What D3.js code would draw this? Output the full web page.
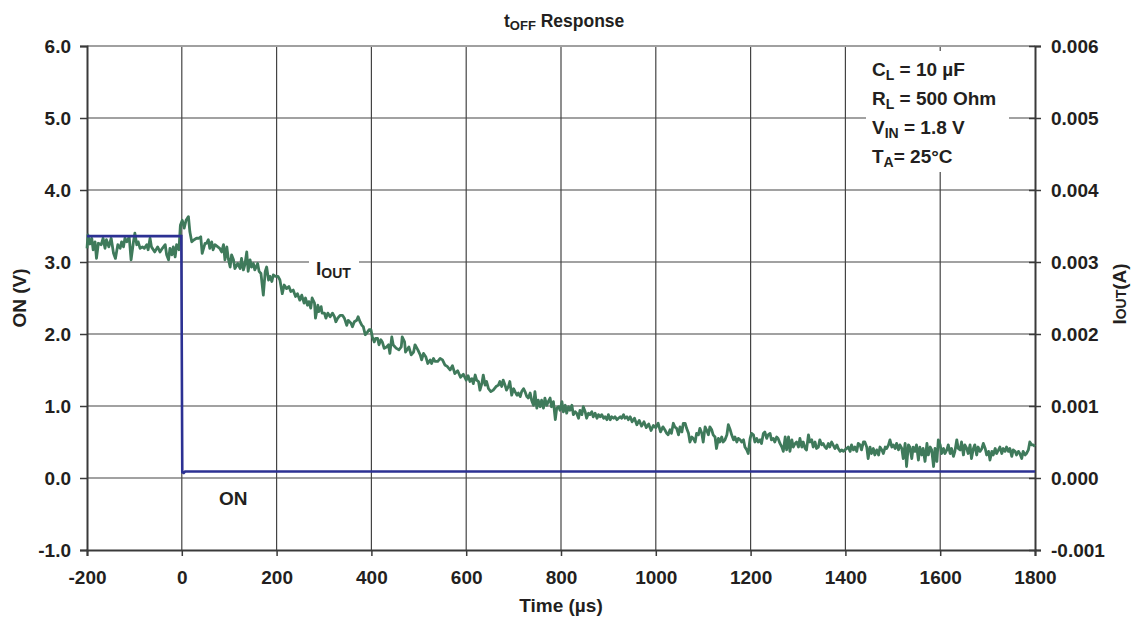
<!DOCTYPE html>
<html>
<head>
<meta charset="utf-8">
<script src="https://cdn.jsdelivr.net/npm/d3@7"></script>
<style>
  body { margin: 0; background: #fff; }
  svg text { font-family: "Liberation Sans", Arial, sans-serif; font-weight: bold; fill: #231f20; }
</style>
</head>
<body>
<svg id="chart" width="1131" height="620"></svg>
<script>
// time in µs
const xTicks = [-200, 0, 200, 400, 600, 800, 1000, 1200, 1400, 1600, 1800];
const leftTicks = [-1, 0, 1, 2, 3, 4, 5, 6];
const rightTicks = [-0.001, 0, 0.001, 0.002, 0.003, 0.004, 0.005, 0.006];

// ON voltage (V)
const onPoints = [[-200, 3.36], [-1, 3.36], [1, 0.08], [4, 0.07], [7, 0.09], [1800, 0.09]];

// I_OUT in mA (1 mA = 0.001 A on the right axis)
const ioutPoints = [
  [-200, 3.19], [-198, 3.375], [-194, 3.25], [-190, 3.33], [-187, 3.17], [-183, 3.28], [-180, 3.05], [-176, 3.26],
  [-170, 3.24], [-166, 3.33], [-162, 3.19], [-159, 3.31], [-154, 3.21], [-149, 3.33], [-144, 3.12], [-140, 3.05],
  [-135, 3.24], [-130, 3.19], [-127, 3.28], [-123, 3.21], [-120, 3.33], [-116, 3.28], [-111, 3.35], [-107, 3.03],
  [-102, 3.28], [-99, 3.40], [-95, 3.24], [-92, 3.28], [-88, 3.19], [-83, 3.21], [-79, 3.19], [-74, 3.24],
  [-71, 3.17], [-67, 3.33], [-64, 3.21], [-57, 3.14], [-51, 3.21], [-46, 3.14], [-41, 3.19], [-35, 3.24],
  [-32, 3.10], [-28, 3.03], [-25, 3.19], [-21, 3.10], [-18, 3.21], [-14, 3.07], [-11, 3.24], [-6, 3.17],
  [-3, 3.51], [1, 3.58], [5, 3.47], [9, 3.58], [14, 3.63], [17, 3.42], [21, 3.28], [26, 3.31],
  [31, 3.33], [36, 3.33], [40, 3.35], [43, 3.12], [49, 3.26], [52, 3.26], [56, 3.31], [59, 3.19],
  [63, 3.28], [66, 3.17], [70, 3.24], [76, 3.21], [80, 3.19], [84, 3.14], [88, 3.24], [91, 3.03],
  [95, 3.21], [98, 3.05], [102, 2.93], [105, 3.10], [109, 3.03], [112, 2.91], [118, 2.98], [123, 2.91],
  [126, 3.05], [130, 2.89], [133, 2.96], [137, 3.14], [140, 2.87], [144, 3.03], [147, 2.93], [151, 2.98],
  [154, 2.89], [160, 2.98], [163, 2.87], [167, 2.84], [172, 2.54], [176, 2.87], [179, 2.93], [183, 2.75],
  [186, 2.80], [190, 2.73], [193, 2.82], [198, 2.80], [203, 2.80], [207, 2.75], [212, 2.56], [216, 2.68],
  [221, 2.63], [226, 2.66], [230, 2.59], [235, 2.61], [240, 2.52], [244, 2.56], [249, 2.47], [253, 2.54],
  [258, 2.43], [261, 2.50], [265, 2.40], [268, 2.45], [272, 2.36], [275, 2.50], [280, 2.43], [282, 2.22],
  [287, 2.40], [289, 2.31], [294, 2.38], [296, 2.29], [301, 2.29], [304, 2.22], [308, 2.29], [313, 2.24],
  [318, 2.29], [322, 2.24], [325, 2.17], [329, 2.22], [334, 2.26], [339, 2.26], [343, 2.22], [348, 2.12],
  [351, 2.19], [357, 2.15], [360, 2.10], [364, 2.17], [369, 2.19], [372, 2.24], [376, 2.17], [380, 2.12],
  [383, 2.10], [387, 1.99], [390, 2.01], [395, 2.06], [399, 2.06], [402, 1.96], [406, 1.89], [409, 1.94],
  [413, 1.94], [416, 1.85], [420, 1.92], [423, 1.89], [427, 1.80], [432, 1.82], [436, 1.85], [439, 1.73],
  [443, 1.96], [446, 1.85], [450, 1.82], [453, 1.80], [458, 1.78], [463, 1.82], [465, 1.96], [470, 1.89],
  [472, 1.75], [477, 1.80], [479, 1.82], [484, 1.71], [489, 1.75], [492, 1.85], [498, 1.78], [503, 1.71],
  [506, 1.64], [510, 1.73], [515, 1.68], [519, 1.59], [524, 1.64], [527, 1.59], [531, 1.66], [534, 1.62],
  [540, 1.62], [545, 1.66], [550, 1.64], [555, 1.57], [560, 1.55], [566, 1.50], [571, 1.56], [576, 1.45],
  [582, 1.49], [588, 1.40], [594, 1.44], [600, 1.36], [604, 1.42], [608, 1.34], [612, 1.38], [615, 1.31],
  [619, 1.43], [622, 1.36], [626, 1.34], [629, 1.22], [633, 1.31], [636, 1.43], [640, 1.29], [643, 1.34],
  [647, 1.24], [652, 1.20], [657, 1.22], [663, 1.27], [668, 1.29], [671, 1.34], [675, 1.27], [678, 1.36],
  [682, 1.29], [685, 1.22], [689, 1.27], [692, 1.34], [696, 1.15], [700, 1.24], [703, 1.20], [707, 1.15],
  [710, 1.18], [714, 1.13], [717, 1.20], [721, 1.24], [724, 1.20], [728, 1.13], [731, 1.11], [735, 1.18],
  [738, 1.08], [742, 1.01], [745, 1.20], [749, 0.97], [752, 1.08], [756, 0.99], [759, 1.08], [763, 0.97],
  [766, 1.11], [770, 1.01], [773, 1.06], [777, 1.11], [780, 0.99], [784, 1.06], [788, 0.81], [791, 0.97],
  [795, 0.99], [798, 0.94], [802, 1.06], [805, 0.92], [809, 1.01], [812, 0.90], [816, 0.99], [819, 0.94],
  [823, 1.01], [826, 0.88], [830, 0.92], [833, 0.90], [837, 0.83], [840, 0.94], [844, 0.88], [847, 0.99],
  [851, 0.92], [854, 0.83], [858, 0.90], [861, 0.88], [865, 0.92], [868, 0.85], [872, 0.90], [876, 0.83],
  [879, 0.88], [883, 0.85], [886, 0.88], [890, 0.83], [893, 0.85], [897, 0.81], [900, 0.88], [904, 0.81],
  [907, 0.85], [911, 0.83], [914, 0.85], [918, 0.81], [921, 0.83], [925, 0.85], [928, 0.83], [932, 0.88],
  [935, 0.83], [939, 0.85], [942, 0.81], [946, 0.85], [950, 0.78], [955, 0.83], [960, 0.74], [965, 0.80],
  [970, 0.72], [975, 0.78], [980, 0.70], [985, 0.75], [990, 0.66], [995, 0.73], [1000, 0.70], [1005, 0.76],
  [1010, 0.64], [1015, 0.71], [1019, 0.67], [1023, 0.62], [1026, 0.60], [1030, 0.67], [1033, 0.62], [1037, 0.76],
  [1040, 0.71], [1044, 0.69], [1048, 0.60], [1051, 0.71], [1055, 0.64], [1058, 0.76], [1062, 0.76], [1065, 0.69],
  [1069, 0.62], [1072, 0.50], [1076, 0.57], [1079, 0.55], [1083, 0.50], [1086, 0.62], [1090, 0.60], [1093, 0.69],
  [1097, 0.62], [1100, 0.50], [1104, 0.71], [1107, 0.67], [1111, 0.60], [1114, 0.71], [1118, 0.67], [1121, 0.60],
  [1125, 0.57], [1128, 0.41], [1132, 0.55], [1135, 0.50], [1139, 0.57], [1142, 0.50], [1146, 0.53], [1150, 0.60],
  [1153, 0.74], [1157, 0.67], [1160, 0.60], [1164, 0.53], [1167, 0.57], [1171, 0.50], [1174, 0.55], [1178, 0.53],
  [1181, 0.50], [1185, 0.53], [1188, 0.43], [1192, 0.39], [1195, 0.34], [1199, 0.55], [1202, 0.62], [1206, 0.60],
  [1209, 0.50], [1213, 0.55], [1216, 0.50], [1220, 0.53], [1223, 0.48], [1227, 0.62], [1230, 0.64], [1234, 0.55],
  [1237, 0.60], [1241, 0.62], [1244, 0.53], [1248, 0.55], [1251, 0.50], [1255, 0.57], [1258, 0.55], [1262, 0.48],
  [1266, 0.43], [1269, 0.37], [1273, 0.57], [1276, 0.39], [1280, 0.57], [1283, 0.37], [1287, 0.53], [1290, 0.43],
  [1294, 0.48], [1297, 0.50], [1301, 0.43], [1304, 0.55], [1308, 0.43], [1311, 0.50], [1315, 0.41], [1318, 0.39],
  [1322, 0.60], [1325, 0.50], [1329, 0.53], [1332, 0.43], [1336, 0.50], [1339, 0.41], [1343, 0.43], [1346, 0.53],
  [1350, 0.46], [1353, 0.48], [1357, 0.43], [1360, 0.41], [1364, 0.48], [1367, 0.43], [1371, 0.50], [1374, 0.46],
  [1378, 0.41], [1382, 0.46], [1385, 0.41], [1389, 0.37], [1392, 0.39], [1396, 0.37], [1399, 0.39], [1403, 0.41],
  [1406, 0.43], [1410, 0.37], [1413, 0.46], [1417, 0.39], [1420, 0.43], [1424, 0.37], [1427, 0.48], [1431, 0.46],
  [1434, 0.39], [1438, 0.50], [1441, 0.50], [1445, 0.43], [1448, 0.27], [1452, 0.43], [1455, 0.34], [1459, 0.41],
  [1462, 0.32], [1466, 0.39], [1470, 0.32], [1473, 0.43], [1477, 0.39], [1480, 0.34], [1484, 0.43], [1487, 0.41],
  [1491, 0.46], [1494, 0.53], [1498, 0.43], [1501, 0.46], [1505, 0.41], [1508, 0.48], [1512, 0.39], [1515, 0.46],
  [1519, 0.41], [1522, 0.27], [1526, 0.48], [1529, 0.16], [1533, 0.46], [1536, 0.43], [1540, 0.27], [1543, 0.43],
  [1547, 0.37], [1550, 0.46], [1554, 0.25], [1557, 0.43], [1561, 0.32], [1564, 0.41], [1568, 0.23], [1572, 0.48],
  [1575, 0.32], [1579, 0.43], [1582, 0.39], [1586, 0.16], [1589, 0.41], [1593, 0.23], [1596, 0.53], [1600, 0.46],
  [1603, 0.34], [1607, 0.41], [1610, 0.34], [1614, 0.39], [1617, 0.46], [1621, 0.34], [1624, 0.41], [1628, 0.30],
  [1631, 0.37], [1635, 0.53], [1638, 0.41], [1642, 0.39], [1645, 0.50], [1649, 0.32], [1652, 0.46], [1656, 0.41],
  [1659, 0.34], [1663, 0.46], [1666, 0.27], [1670, 0.41], [1673, 0.46], [1677, 0.32], [1680, 0.43], [1684, 0.37],
  [1688, 0.41], [1691, 0.48], [1695, 0.41], [1698, 0.32], [1702, 0.37], [1705, 0.25], [1709, 0.37], [1712, 0.32],
  [1716, 0.41], [1719, 0.34], [1723, 0.39], [1726, 0.43], [1730, 0.34], [1733, 0.41], [1737, 0.37], [1740, 0.43],
  [1744, 0.37], [1747, 0.41], [1751, 0.30], [1754, 0.39], [1758, 0.37], [1761, 0.32], [1765, 0.37], [1768, 0.34],
  [1772, 0.27], [1775, 0.37], [1779, 0.32], [1782, 0.34], [1786, 0.39], [1789, 0.50], [1793, 0.46], [1796, 0.46],
  [1800, 0.44]
];

const annotations = [
  { main: "C", sub: "L", rest: " = 10 µF" },
  { main: "R", sub: "L", rest: " = 500 Ohm" },
  { main: "V", sub: "IN", rest: " = 1.8 V" },
  { main: "T", sub: "A", rest: "= 25°C" },
];

const margin = { top: 46, right: 96, bottom: 70, left: 87 };
const width = 1131;
const height = 620;
const fs = 19;

const svg = d3.select("#chart");

const x = d3.scaleLinear().domain([-200, 1800]).range([margin.left, width - margin.right]);
const yLeft = d3.scaleLinear().domain([-1, 6]).range([height - margin.bottom, margin.top]);
const yRight = d3.scaleLinear().domain([-0.001, 0.006]).range([height - margin.bottom, margin.top]);
const yAmp = d3.scaleLinear().domain([-1, 6]).range([height - margin.bottom, margin.top]); // mA

const x0 = margin.left, x1 = width - margin.right;
const yTop = margin.top, yBot = height - margin.bottom;

// grid
const grid = svg.append("g").attr("stroke", "#444").attr("stroke-width", 1.2);
grid.selectAll("line.v")
  .data(xTicks.slice(1, -1))
  .join("line")
    .attr("class", "v")
    .attr("x1", d => x(d)).attr("x2", d => x(d))
    .attr("y1", yTop).attr("y2", yBot);
grid.selectAll("line.h")
  .data(leftTicks.slice(1, -1))
  .join("line")
    .attr("class", "h")
    .attr("x1", x0).attr("x2", x1)
    .attr("y1", d => yLeft(d)).attr("y2", d => yLeft(d));

// top border (light)
svg.append("line")
  .attr("x1", x0).attr("x2", x1).attr("y1", yTop).attr("y2", yTop)
  .attr("stroke", "#a0a0a0").attr("stroke-width", 2);

// axes
const axisFont = g => g.selectAll("text")
  .attr("font-size", fs)
  .attr("font-weight", "bold")
  .attr("font-family", "Liberation Sans, Arial, sans-serif")
  .attr("fill", "#231f20");

const xAxis = svg.append("g")
  .attr("transform", `translate(0,${yBot})`)
  .call(d3.axisBottom(x).tickValues(xTicks).tickSize(6).tickPadding(15))
  .call(axisFont);

const leftAxis = svg.append("g")
  .attr("transform", `translate(${x0},0)`)
  .call(d3.axisLeft(yLeft).tickValues(leftTicks).tickSize(7).tickPadding(9))
  .call(axisFont);

const rightAxis = svg.append("g")
  .attr("transform", `translate(${x1},0)`)
  .call(d3.axisRight(yRight).tickValues(rightTicks).tickSize(6).tickPadding(10))
  .call(axisFont);

[xAxis, leftAxis, rightAxis].forEach(a => {
  a.select(".domain").attr("stroke", "#3a3a3a").attr("stroke-width", 2);
  a.selectAll(".tick line").attr("stroke", "#3a3a3a").attr("stroke-width", 1.5);
});
// right ticks cross the axis
rightAxis.selectAll(".tick line").attr("x1", -6);
rightAxis.selectAll(".tick text").text(d => d.toFixed(3));
leftAxis.selectAll(".tick text").text(d => d.toFixed(1));
xAxis.selectAll(".tick text").text(d => String(d));

// annotation box (white, covers grid)
svg.append("rect")
  .attr("x", 866).attr("y", 51).attr("width", 143).attr("height", 121)
  .attr("fill", "#fff");

const annoText = svg.append("g").attr("font-size", fs);
annotations.forEach((a, i) => {
  const t = annoText.append("text")
    .attr("x", 872)
    .attr("y", 76 + i * 29);
  t.append("tspan").text(a.main);
  t.append("tspan").attr("font-size", 14).attr("dy", 4).text(a.sub);
  t.append("tspan").attr("dy", -4).text(a.rest);
});

// lines
const onLine = d3.line().x(d => x(d[0])).y(d => yLeft(d[1]));
const ioutLine = d3.line().x(d => x(d[0])).y(d => yAmp(d[1]));

svg.append("path")
  .datum(ioutPoints)
  .attr("fill", "none")
  .attr("stroke", "#3f7a5b")
  .attr("stroke-width", 2.8)
  .attr("stroke-linejoin", "round")
  .attr("d", ioutLine);

svg.append("path")
  .datum(onPoints)
  .attr("fill", "none")
  .attr("stroke", "#2c3193")
  .attr("stroke-width", 2.6)
  .attr("d", onLine);

// series labels
svg.append("rect").attr("x", 309).attr("y", 257).attr("width", 50).attr("height", 26).attr("fill", "#fff");
const iout = svg.append("text").attr("x", 316).attr("y", 275).attr("font-size", fs);
iout.append("tspan").text("I");
iout.append("tspan").attr("font-size", 14).attr("dy", 3).text("OUT");

svg.append("text").attr("x", 219).attr("y", 505).attr("font-size", fs).text("ON");

// titles
const title = svg.append("text").attr("x", 504).attr("y", 27).attr("font-size", 17.5);
title.append("tspan").text("t");
title.append("tspan").attr("font-size", 13).attr("dy", 3).text("OFF");
title.append("tspan").attr("dy", -3).text(" Response");

svg.append("text")
  .attr("x", (x0 + x1) / 2).attr("y", 612)
  .attr("text-anchor", "middle").attr("font-size", fs)
  .text("Time (µs)");

svg.append("text")
  .attr("transform", `translate(26,${(yTop + yBot) / 2}) rotate(-90)`)
  .attr("text-anchor", "middle").attr("font-size", fs)
  .text("ON (V)");

const rt = svg.append("text")
  .attr("transform", `translate(1126,${(yTop + yBot) / 2 - 4}) rotate(-90)`)
  .attr("text-anchor", "middle").attr("font-size", fs);
rt.append("tspan").text("I");
rt.append("tspan").attr("font-size", 14).text("OUT");
rt.append("tspan").text("(A)");
</script>
</body>
</html>
